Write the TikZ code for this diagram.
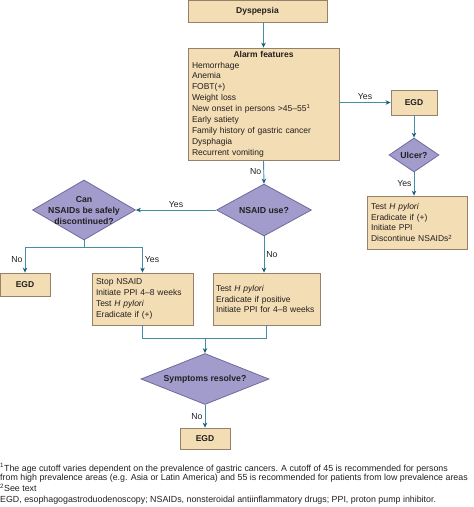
\documentclass[tikz,border=0pt]{standalone}
\usepackage{fontspec}
\setmainfont{Liberation Sans}
\usetikzlibrary{shapes.geometric,arrows.meta}
\definecolor{boxtan}{RGB}{243,221,180}
\definecolor{boxedge}{RGB}{150,128,104}
\definecolor{dmdfill}{RGB}{161,156,204}
\definecolor{dmdedge}{RGB}{112,106,156}
\definecolor{flowteal}{RGB}{70,140,165}
\definecolor{tipteal}{RGB}{25,95,125}
\definecolor{inkgray}{RGB}{35,31,32}

\begin{document}
\begin{tikzpicture}[x=1pt, y=-1pt,
    box/.style={rectangle, draw=boxedge, fill=boxtan, line width=0.8pt,
                text=inkgray, font=\fontsize{8.5}{10.9}\selectfont, inner sep=0pt},
    infobox/.style={box, align=left, inner xsep=4pt},
    dmd/.style={diamond, draw=dmdedge, fill=dmdfill, line width=0.8pt,
                text=inkgray, font=\fontsize{8.7}{11}\selectfont\bfseries,
                align=center, inner sep=0pt},
    flow/.style={draw=flowteal, line width=0.9pt},
    arrow/.style={flow, -{Stealth[length=5pt, width=4.5pt, color=tipteal]}},
    lbl/.style={font=\fontsize{8.7}{9}\selectfont, text=inkgray, inner sep=2pt}
]
\useasboundingbox (0,0) rectangle (474,507);

% Top of the chart
\node[box, minimum width=139pt, minimum height=22pt] (dys) at (257.5,11) {\textbf{Dyspepsia}};
\node[infobox, text width=143pt, minimum height=112pt] (alarm) at (263.5,104)
    {\makebox[143pt]{\textbf{Alarm features}}\\Hemorrhage\\Anemia\\FOBT(+)\\Weight loss\\
     New onset in persons >45--55\textsuperscript{1}\\Early satiety\\
     Family history of gastric cancer\\Dysphagia\\Recurrent vomiting};

% Right branch
\node[box, minimum width=46pt, minimum height=25pt] (egdA) at (414,102.5) {\textbf{EGD}};
\node[dmd, aspect=1.47, inner sep=-1pt, minimum width=50pt, minimum height=34pt] (ulcer) at (414,155) {Ulcer?};
\node[infobox, text width=92pt, minimum height=53pt] (ulcerrx) at (417,222.5)
    {Test \textit{H pylori}\\Eradicate if (+)\\Initiate PPI\\Discontinue NSAIDs\textsuperscript{2}};

% Middle branch
\node[dmd, aspect=1.83, minimum width=95pt, minimum height=52pt] (nsaid) at (264,210) {NSAID use?};
\node[infobox, inner xsep=3pt, text width=101pt, minimum height=52pt] (hprx) at (266.5,299)
    {Test \textit{H pylori}\\Eradicate if positive\\Initiate PPI for 4--8 weeks};

% Left branch
\node[dmd, aspect=1.72, inner sep=-8pt, minimum width=103pt, minimum height=60pt] (stop) at (84,210)
    {Can\\NSAIDs be safely\\discontinued?};
\node[box, minimum width=50pt, minimum height=23pt] (egdB) at (25,284.5) {\textbf{EGD}};
\node[infobox, text width=93pt, minimum height=52pt] (stoprx) at (142.5,299)
    {Stop NSAID\\Initiate PPI 4--8 weeks\\Test \textit{H pylori}\\Eradicate if (+)};

% Bottom
\node[dmd, aspect=2.5, minimum width=128pt, minimum height=51pt] (resolve) at (205,379) {Symptoms resolve?};
\node[box, minimum width=50pt, minimum height=21pt] (egdC) at (205,438.5) {\textbf{EGD}};

% Footnotes
\node[anchor=north west, inner sep=0pt, align=left, text=inkgray,
      font=\fontsize{8.85}{9.6}\selectfont] (notes) at (0,463)
    {\textsuperscript{1}The age cutoff varies dependent on the prevalence of gastric cancers. A cutoff of 45 is recommended for persons\\
     from high prevalence areas (e.g. Asia or Latin America) and 55 is recommended for patients from low prevalence areas\\
     \textsuperscript{2}See text\\[1.5pt]
     EGD, esophagogastroduodenoscopy; NSAIDs, nonsteroidal antiinflammatory drugs; PPI, proton pump inhibitor.};

% Arrows
\draw[arrow] (dys.south -| alarm.north) -- (alarm.north);
\draw[arrow] (alarm.east |- egdA) -- (egdA.west) node[lbl, midway, above] {Yes};
\draw[arrow] (egdA.south) -- (ulcer.north);
\draw[arrow] (ulcer.south) -- (ulcer.south |- ulcerrx.north) node[lbl, midway, left] {Yes};
\draw[arrow] (alarm.south) -- (nsaid.north) node[lbl, midway, left] {No};
\draw[arrow] (nsaid.west) -- (stop.east) node[lbl, midway, above] {Yes};
\draw[arrow] (nsaid.south) -- (nsaid.south |- hprx.north) node[lbl, midway, right] {No};
\draw[flow] (stop.south) -- ++(0,7) coordinate (split);
\draw[arrow] (split) -| (egdB.north) node[lbl, pos=0.75, left] {No};
\draw[arrow] (split) -| (stoprx.north) node[lbl, pos=0.75, right] {Yes};
\draw[flow] (stoprx.south) -- ++(0,13) coordinate (join) -- (join -| hprx.south) -- (hprx.south);
\draw[arrow] (join -| resolve.north) -- (resolve.north);
\draw[arrow] (resolve.south) -- (egdC.north) node[lbl, midway, left] {No};

\end{tikzpicture}
\end{document}
